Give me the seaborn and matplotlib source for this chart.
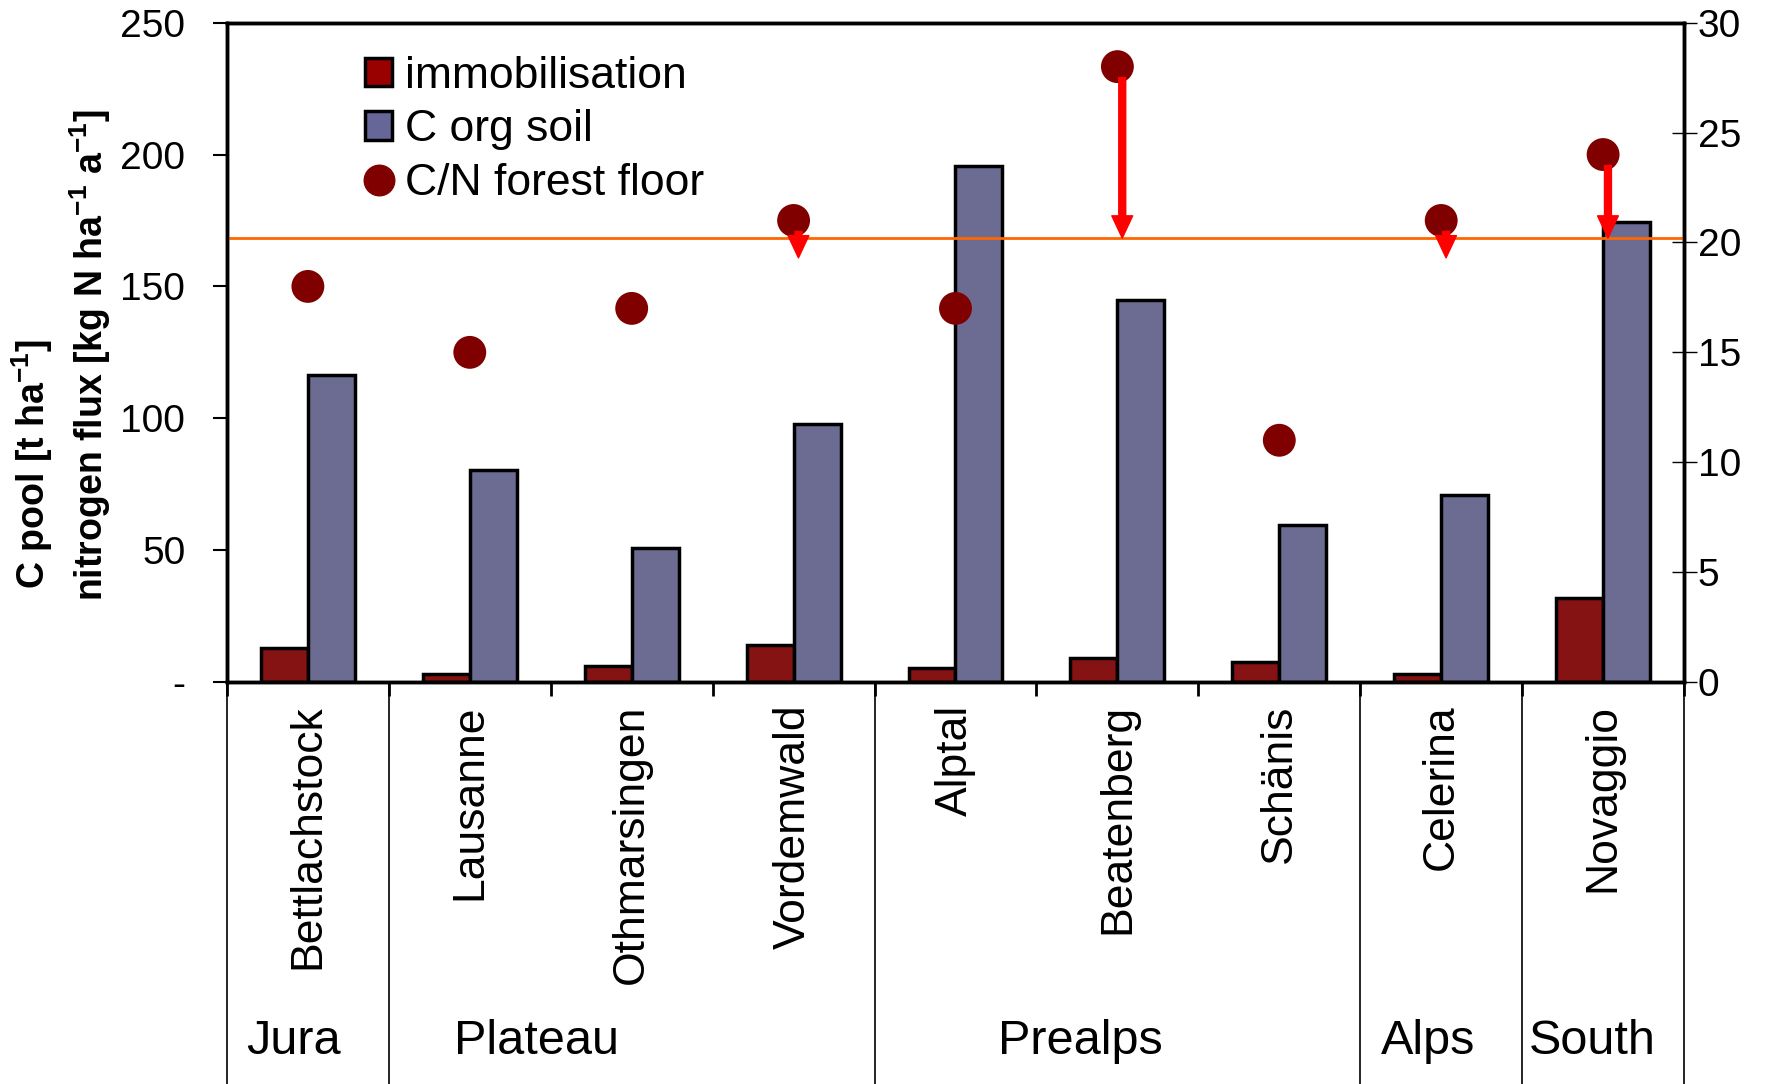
import matplotlib
matplotlib.use('Agg')
import matplotlib.pyplot as plt
import seaborn as sns
import pandas as pd
import numpy as np
from matplotlib.patches import Patch
from matplotlib.lines import Line2D
from matplotlib.ticker import FuncFormatter

# data
sites = ['Bettlachstock', 'Lausanne', 'Othmarsingen', 'Vordemwald', 'Alptal',
         'Beatenberg', 'Schänis', 'Celerina', 'Novaggio']
immobilisation = [13, 3, 6, 14, 5.5, 9, 7.5, 3, 32]
c_org_soil = [116.5, 80.5, 51, 98, 195.5, 145, 59.5, 71, 174.5]
cn_forest_floor = [18, 15, 17, 21, 17, 28, 11, 21, 24]
cn_threshold = 20.2
arrow_end = [None, None, None, 19.3, None, 20.2, None, 19.3, 20.2]
regions = ['Jura', 'Plateau', 'Prealps', 'Alps', 'South']
region_sizes = [1, 3, 3, 1, 1]

sns.set_theme(style='white')
plt.rcParams['font.family'] = ['Liberation Sans', 'DejaVu Sans']
plt.rcParams['mathtext.default'] = 'regular'
for k in ('text.color', 'axes.labelcolor', 'xtick.color', 'ytick.color'):
    plt.rcParams[k] = 'black'

df = pd.DataFrame({'site': sites * 2,
                   'value': immobilisation + c_org_soil,
                   'series': ['immobilisation'] * 9 + ['C org soil'] * 9})
cn = pd.DataFrame({'site': sites, 'cn': cn_forest_floor})

fig = plt.figure(figsize=(17.77, 10.84), dpi=100)
ax = fig.add_axes([0.1277, 0.3708, 0.82, 0.6083])

sns.barplot(data=df, x='site', y='value', hue='series', order=sites,
            hue_order=['immobilisation', 'C org soil'],
            palette=['#990000', '#666699'], width=0.58, edgecolor='black',
            linewidth=2.5, legend=False, ax=ax)
ax.set_xlim(-0.5, 8.5)
ax.set_ylim(0, 250)
ax.set_xlabel('')
ax.set_ylabel('')
ax.set_yticks([0, 50, 100, 150, 200, 250])
ax.yaxis.set_major_formatter(FuncFormatter(lambda v, p: '-' if v == 0 else f'{v:.0f}'))
ax.tick_params(axis='y', direction='out', length=10, width=1.5, pad=20, labelsize=28, left=True)
ax.set_xticks(range(len(sites)))
ax.set_xticklabels(sites, rotation=90, fontsize=32)
bounds = np.arange(-0.5, len(sites) + 0.5, 1)
ax.set_xticks(bounds, minor=True)
ax.tick_params(axis='x', which='major', length=0, pad=16)
ax.tick_params(axis='x', which='minor', direction='out', length=10, width=2, bottom=True)

ax2 = ax.twinx()
ax2.set_ylim(0, 30)
ax2.set_yticks(range(0, 31, 5))
ax2.tick_params(axis='y', direction='inout', length=18, width=1, pad=1, labelsize=28, right=True)
ax2.axhline(cn_threshold, color='#FF6600', lw=2)
sns.scatterplot(data=cn, x='site', y='cn', color='#800000', s=560, edgecolor='none',
                ax=ax2, zorder=5)
ax2.set_ylabel('')
ax2.set_xlim(-0.5, 8.5)

for i, (v, e) in enumerate(zip(cn_forest_floor, arrow_end)):
    if e is None:
        continue
    ax2.annotate('', xy=(i + 0.03, e), xytext=(i + 0.03, v - 0.5),
                 arrowprops=dict(color='#FF0000', width=5, headwidth=15,
                                 headlength=16, shrink=0), zorder=6)

for a in (ax, ax2):
    for s in a.spines.values():
        s.set_linewidth(2.5)
        s.set_color('black')
    a.grid(False)

# region separators and labels below the axis
edges = np.cumsum([0] + region_sizes) - 0.5
trans = ax.get_xaxis_transform()
for x in edges:
    ax.plot([x, x], [0, -0.61], color='black', lw=1.2, transform=trans, clip_on=False)
region_x = [-0.09, 1.41, 4.77, 6.92, 7.93]
for name, x in zip(regions, region_x):
    ax.text(x, -0.545, name, transform=trans, ha='center', va='center', fontsize=35,
            family=['Liberation Sans Narrow', 'Liberation Sans'])

handles = [Patch(facecolor='#990000', edgecolor='black', linewidth=2.5),
           Patch(facecolor='#666699', edgecolor='black', linewidth=2.5),
           Line2D([], [], marker='o', ls='', color='#800000', markersize=22)]
ax2.legend(handles, ['immobilisation', 'C org soil', 'C/N forest floor'],
           loc='upper left', bbox_to_anchor=(0.095, 0.95), frameon=False, fontsize=32,
           handlelength=0.6, handleheight=0.6, handletextpad=0.3, labelspacing=0.28,
           borderpad=0, borderaxespad=0)

fig.text(0.018, 0.457, 'C pool [t ha$^{-1}$]', rotation=90, ha='center', va='bottom',
         fontsize=27, fontweight='bold')
fig.text(0.051, 0.446, 'nitrogen flux [kg N ha$^{-1}$ a$^{-1}$]', rotation=90,
         ha='center', va='bottom', fontsize=27, fontweight='bold')

fig.savefig('out.png', dpi=100)
